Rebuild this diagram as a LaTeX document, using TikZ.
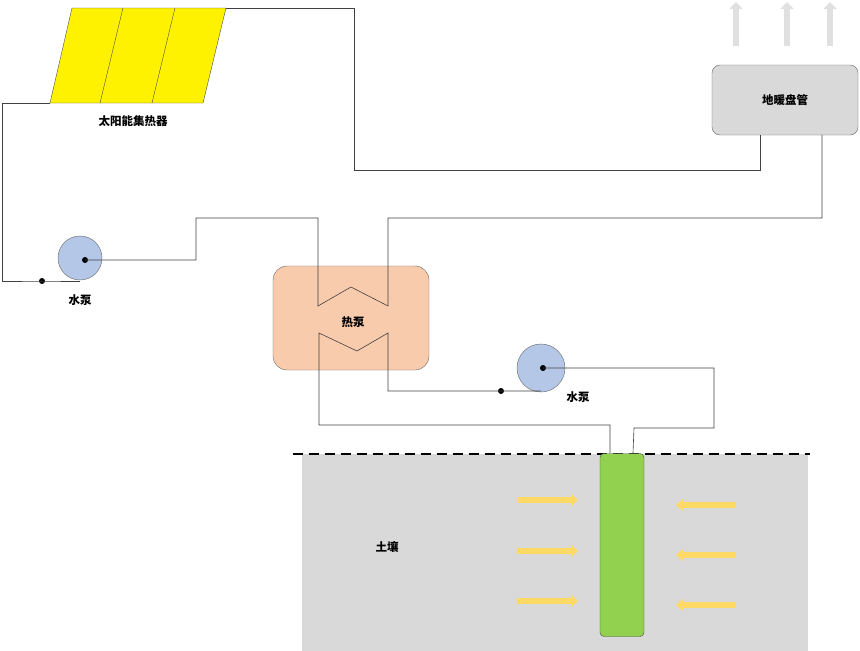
\documentclass[tikz,border=0pt]{standalone}
\usepackage{fontspec}
\setmainfont{Noto Sans CJK SC}
\usetikzlibrary{arrows.meta}
\begin{document}
\begin{tikzpicture}[x=1pt,y=-1pt,
  pipe/.style={draw=black!75,line width=0.6pt},
  lbl/.style={font=\bfseries\fontsize{11.5}{13}\selectfont},
  dotn/.style={circle,fill=black,inner sep=0pt,minimum size=6pt},
  pumpc/.style={circle,draw=black!60,fill=blue!25!gray!40!white,fill=pumpblue,minimum size=46pt,inner sep=0pt},
  yarr/.style={-{Triangle[length=7pt,width=12pt]},line width=6pt,draw=arrowyellow},
  garr/.style={-{Triangle[length=7pt,width=13pt]},line width=6pt,draw=black!12}]
\definecolor{pumpblue}{HTML}{B4C7E7}
\definecolor{arrowyellow}{HTML}{FFD966}
\useasboundingbox (0,0) rectangle (860,651);
% soil
\fill[black!15] (302,454) rectangle (808,651);
\draw[line width=1.5pt,dash pattern=on 10pt off 6pt] (293,454) -- (810,454);
\node[draw=black!70,fill=green!55!lime!70!black!50,fill={rgb,255:red,146;green,208;blue,80},rounded corners=4pt,minimum width=44pt,minimum height=183pt,inner sep=0pt] (well) at (622,545) {};
\node[lbl] (soil) at (387,547) {土壤};
\foreach \y in {500,551,601} \draw[yarr] (517,\y) -- (578,\y);
\foreach \y in {505,555,605} \draw[yarr] (736,\y) -- (676,\y);
% gray arrows
\foreach \x in {736,787,830} \draw[garr] (\x,46) -- (\x,2);
% solar panel
\fill[yellow] (72,8) -- (226,8) -- (203,103) -- (50,103) -- cycle;
\draw[black!70] (72,8) -- (226,8) -- (203,103) -- (50,103) -- cycle;
\draw[black!70] (123,8) -- (100,103) (175,8) -- (152,103);
\coordinate (sTR) at (226,8);
\coordinate (sBL) at (50,103);
\node[lbl] (solar) at (133,121) {太阳能集热器};
% floor heating
\node[draw=black!60,fill=black!15,rounded corners=8pt,minimum width=146pt,minimum height=70pt] (floor) at (785,100) {};
\node[lbl] at (floor) {地暖盘管};
% heat pump
\node[draw=black!60,fill={rgb,255:red,248;green,203;blue,173},rounded corners=14pt,minimum width=156pt,minimum height=104pt] (hp) at (351,318) {};
\node[lbl] at (353,322) {热泵};
% pumps
\node[pumpc,minimum size=44pt] (p1) at (80,258) {};
\node[dotn] (c1) at (85,260) {};
\node[lbl] at (80,300) {水泵};
\node[pumpc,minimum size=48pt] (p2) at (541,368) {};
\node[dotn] (c2) at (543,368) {};
\node[lbl] at (578,397) {水泵};
\node[dotn] (d1) at (42,281) {};
\node[dotn] (d2) at (501,391) {};
% pipes
\draw[pipe] (sTR) -- (354,8) -- (354,170) -- (760,170) -- (760,135);
\draw[pipe] (sBL) -- (2,103) -- (2,281) -- (d1.center) -- (80,281);
\draw[pipe] (c1.center) -- (196,260) -- (196,218) -- (318,218) -- (318,306) -- (351,287) -- (388,306) -- (388,218) -- (822,218) -- (822,135);
\draw[pipe] (610,453) -- (610,425) -- (319,425) -- (319,333) -- (357,351) -- (388,333) -- (388,391) -- (d2.center) -- (541,391);
\draw[pipe] (c2.center) -- (714,368) -- (714,428) -- (634,428) -- (633,453);
\end{tikzpicture}
\end{document}
